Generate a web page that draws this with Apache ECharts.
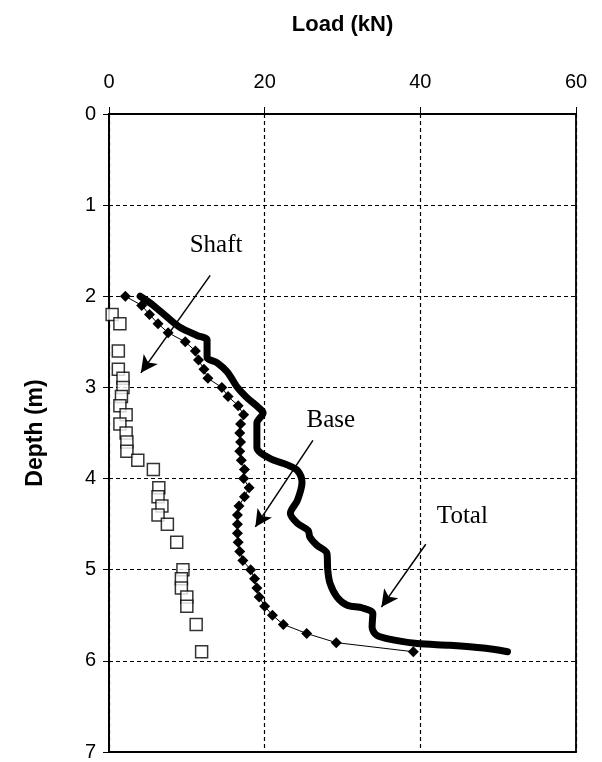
<!DOCTYPE html>
<html><head><meta charset="utf-8">
<script src="https://cdn.jsdelivr.net/npm/echarts@6/dist/echarts.min.js"></script>
<style>html,body{margin:0;padding:0;background:#fff}#c{width:602px;height:762px}</style>
</head><body><div id="c"></div>
<script>
// Base load (diamonds), depth 2.0..5.9 m every 0.1 m
const baseDepth = [2.0,2.1,2.2,2.3,2.4,2.5,2.6,2.7,2.8,2.9,3.0,3.1,3.2,3.3,3.4,3.5,3.6,3.7,3.8,3.9,4.0,4.1,4.2,4.3,4.4,4.5,4.6,4.7,4.8,4.9,5.0,5.1,5.2,5.3,5.4,5.5,5.6,5.7,5.8,5.9];
const baseLoad  = [2.1,4.2,5.2,6.3,7.6,9.8,11.1,11.5,12.2,12.7,14.5,15.3,16.6,17.3,16.9,16.8,16.9,16.8,17.0,17.4,17.3,18.0,17.4,16.7,16.5,16.5,16.5,16.6,16.8,17.2,18.2,18.7,19.0,19.3,20.0,21.0,22.4,25.4,29.2,39.1];
// Shaft load (open squares)
const shaftDepth = [2.2,2.3,2.6,2.8,2.9,3.0,3.1,3.2,3.3,3.4,3.5,3.6,3.7,3.8,3.9,4.1,4.2,4.3,4.4,4.5,4.7,5.0,5.1,5.2,5.3,5.4,5.6,5.9];
const shaftLoad  = [0.4,1.4,1.2,1.2,1.8,1.8,1.6,1.4,2.2,1.4,2.2,2.3,2.3,3.7,5.7,6.4,6.3,6.8,6.3,7.5,8.7,9.5,9.3,9.3,10.0,10.0,11.2,11.9];
// Total load (thick line)
const totalDepth = [2.0,2.1,2.23,2.34,2.43,2.48,2.67,2.73,2.83,3.0,3.11,3.22,3.28,3.39,3.66,3.78,3.85,3.91,4.04,4.24,4.38,4.49,4.57,4.64,4.73,4.82,5.0,5.15,5.30,5.39,5.42,5.48,5.63,5.72,5.77,5.81,5.83,5.86,5.9];
const totalLoad  = [4.0,5.7,7.5,9.1,11.3,12.6,12.6,13.9,15.2,16.5,17.7,19.2,19.8,19.0,19.0,20.7,22.9,24.2,24.8,24.2,23.3,24.2,25.6,25.8,26.7,28.0,28.1,28.4,29.3,30.6,32.6,33.9,33.8,34.4,36.5,39.6,43.8,48.1,51.2];
// Axis ticks
const xTicks = [0,20,40,60];
const yTicks = [0,1,2,3,4,5,6,7];
// Annotations
const annoLabels = ["Shaft","Base","Total"];
const annoText = [[13.75,1.44],[28.5,3.36],[45.4,4.42]];
const annoArrows = [[[13.0,1.77],[4.1,2.84]],[[26.2,3.58],[18.8,4.53]],[[40.7,4.72],[35.0,5.41]]];

const zip = (xs, ys) => xs.map((v,i)=>[v, ys[i]]);
const chart = echarts.init(document.getElementById('c'), null, {renderer:'canvas'});
const serifFont = '"Liberation Serif","DejaVu Serif",serif';
const sansFont = '"Liberation Sans",Arial,sans-serif';
chart.setOption({
  animation:false,
  backgroundColor:'#fff',
  grid:{left:109, top:114, right:26, bottom:10, show:true, borderColor:'#000', borderWidth:1.8, backgroundColor:'transparent'},
  xAxis:{type:'value', position:'top', min:xTicks[0], max:xTicks[xTicks.length-1], interval:20,
    name:'Load (kN)', nameLocation:'middle', nameGap:78,
    nameTextStyle:{fontFamily:sansFont, fontWeight:'bold', fontSize:22, color:'#000'},
    axisLine:{show:true, lineStyle:{color:'#000', width:1.8}},
    axisTick:{show:true, length:7, lineStyle:{color:'#000', width:1}},
    axisLabel:{fontFamily:sansFont, fontSize:20, color:'#000', margin:22},
    splitLine:{show:true, lineStyle:{color:'#000', type:[4,3], width:1.2}}},
  yAxis:{type:'value', inverse:true, min:yTicks[0], max:yTicks[yTicks.length-1], interval:1,
    name:'Depth (m)', nameLocation:'middle', nameGap:62, nameRotate:90,
    nameTextStyle:{fontFamily:sansFont, fontWeight:'bold', fontSize:23, color:'#000'},
    axisLine:{show:true, lineStyle:{color:'#000', width:1.8}},
    axisTick:{show:true, length:6, lineStyle:{color:'#000', width:1}},
    axisLabel:{fontFamily:sansFont, fontSize:20, color:'#000', margin:13},
    splitLine:{show:true, lineStyle:{color:'#000', type:[4,3], width:1.2}}},
  series:[
    {type:'line', name:'Total', data:zip(totalLoad,totalDepth), showSymbol:false, symbol:'none', smooth:0.3,
     lineStyle:{color:'#000', width:7, cap:'round', join:'round'}, z:3},
    {type:'line', name:'Base', data:zip(baseLoad,baseDepth), symbol:'diamond', symbolSize:11,
     itemStyle:{color:'#000'}, lineStyle:{color:'#000', width:1}, z:4},
    {type:'scatter', name:'Shaft', data:zip(shaftLoad,shaftDepth), symbol:'rect', symbolSize:12,
     itemStyle:{color:'#fff', borderColor:'#000', borderWidth:1.5}, z:4},
    {type:'line', name:'anno', data:[], z:5,
     markLine:{silent:true, symbol:['none','arrow'], symbolSize:[13,17], label:{show:false},
       lineStyle:{color:'#000', width:1.5, type:'solid'},
       data: annoArrows.map(a=>[{coord:a[0]},{coord:a[1]}])},
     markPoint:{silent:true, symbol:'rect', symbolSize:1, itemStyle:{color:'rgba(0,0,0,0)'},
       label:{show:true, position:'inside', color:'#000', fontFamily:serifFont, fontSize:25, formatter:p=>p.name},
       data: annoLabels.map((n,i)=>({name:n, coord:annoText[i]}))}}
  ]
});
</script></body></html>
